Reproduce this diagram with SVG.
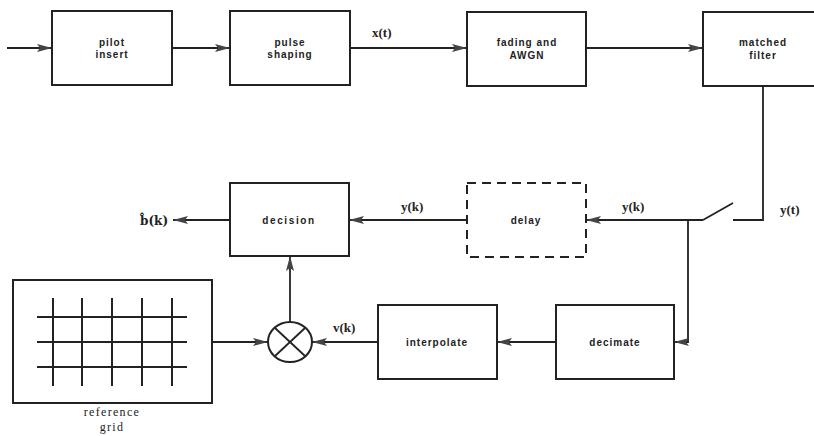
<svg xmlns="http://www.w3.org/2000/svg" width="814" height="436" viewBox="0 0 814 436">
<defs>
<marker id="ah" markerUnits="userSpaceOnUse" markerWidth="16" markerHeight="10" refX="15" refY="4" orient="auto">
<path d="M0,0 L15,4 L0,8 L3,4 z" fill="#444"/>
</marker>
<style>
.box{fill:#fff;stroke:#222;stroke-width:2}
.dash{fill:#fff;stroke:#222;stroke-width:2;stroke-dasharray:9,6}
.ln{fill:none;stroke:#222;stroke-width:1.8}
.lbl{font-family:"Liberation Sans",Arial,sans-serif;font-weight:bold;font-size:10px;letter-spacing:1px;fill:#222;text-anchor:middle}
.sig{font-family:"Liberation Serif","Times New Roman",serif;font-weight:bold;font-size:13px;fill:#222}
.cap{font-family:"Liberation Serif","Times New Roman",serif;font-size:12px;letter-spacing:1.3px;fill:#222;text-anchor:middle}
.grid{stroke:#222;stroke-width:2}
</style>
</defs>
<rect width="814" height="436" fill="#fff"/>

<g id="connectors">
<line class="ln" x1="7" y1="48" x2="52" y2="48" marker-end="url(#ah)"/>
<line class="ln" x1="172" y1="48" x2="230" y2="48" marker-end="url(#ah)"/>
<line class="ln" x1="350" y1="48" x2="467" y2="48" marker-end="url(#ah)"/>
<line class="ln" x1="586" y1="48" x2="703" y2="48" marker-end="url(#ah)"/>
<polyline class="ln" points="763,86 763,220 733,220"/>
<line class="ln" x1="703" y1="220" x2="733" y2="203"/>
<line class="ln" x1="703" y1="220" x2="586" y2="220" marker-end="url(#ah)"/>
<polyline class="ln" points="688,220 688,342 674,342" marker-end="url(#ah)"/>
<line class="ln" x1="467" y1="220" x2="349" y2="220" marker-end="url(#ah)"/>
<line class="ln" x1="230" y1="220" x2="173" y2="220" marker-end="url(#ah)"/>
<line class="ln" x1="556" y1="342" x2="497" y2="342" marker-end="url(#ah)"/>
<line class="ln" x1="378" y1="342" x2="312" y2="342" marker-end="url(#ah)"/>
<line class="ln" x1="212" y1="342" x2="268" y2="342" marker-end="url(#ah)"/>
<line class="ln" x1="290" y1="322" x2="290" y2="256" marker-end="url(#ah)"/>
<text class="sig" x="372" y="37">x(t)</text>
<text class="sig" x="622" y="211">y(k)</text>
<text class="sig" x="780" y="214">y(t)</text>
<text class="sig" x="401" y="211">y(k)</text>
<text class="sig" x="140" y="225" style="font-family:'DejaVu Serif',serif;font-size:12px">b̂(k)</text>
<text class="sig" x="333" y="332">v(k)</text>
</g>

<g id="pilot">
<rect class="box" x="52" y="11" width="120" height="74"/>
<text class="lbl" x="112" y="46">pilot</text>
<text class="lbl" x="112" y="58">insert</text>
</g>
<g id="pulse">
<rect class="box" x="230" y="11" width="120" height="74"/>
<text class="lbl" x="290" y="46">pulse</text>
<text class="lbl" x="290" y="58">shaping</text>
</g>
<g id="fading">
<rect class="box" x="467" y="12" width="119" height="74"/>
<text class="lbl" x="527" y="46">fading and</text>
<text class="lbl" x="527" y="59">AWGN</text>
</g>
<g id="matched">
<rect class="box" x="703" y="12" width="125" height="74"/>
<text class="lbl" x="763" y="46">matched</text>
<text class="lbl" x="763" y="59">filter</text>
</g>
<g id="delay">
<rect class="dash" x="467" y="183" width="119" height="74"/>
<text class="lbl" x="526" y="224">delay</text>
</g>
<g id="decision">
<rect class="box" x="230" y="183" width="119" height="73"/>
<text class="lbl" x="289" y="224" style="letter-spacing:1.6px">decision</text>
</g>
<g id="multiplier">
<ellipse cx="290" cy="342" rx="22" ry="20" fill="#fff" stroke="#222" stroke-width="2"/>
<line class="ln" x1="275" y1="328" x2="305" y2="356"/>
<line class="ln" x1="305" y1="328" x2="275" y2="356"/>
</g>
<g id="interpolate">
<rect class="box" x="378" y="305" width="119" height="74"/>
<text class="lbl" x="437" y="346">interpolate</text>
</g>
<g id="decimate">
<rect class="box" x="556" y="305" width="118" height="74"/>
<text class="lbl" x="615" y="346">decimate</text>
</g>
<g id="refgrid">
<rect class="box" x="13" y="280" width="199" height="123"/>
<line class="grid" x1="53" y1="298" x2="53" y2="386"/>
<line class="grid" x1="82" y1="298" x2="82" y2="386"/>
<line class="grid" x1="112" y1="298" x2="112" y2="386"/>
<line class="grid" x1="142" y1="298" x2="142" y2="386"/>
<line class="grid" x1="172" y1="298" x2="172" y2="386"/>
<line class="grid" x1="37" y1="317" x2="187" y2="317"/>
<line class="grid" x1="37" y1="342" x2="187" y2="342"/>
<line class="grid" x1="37" y1="367" x2="187" y2="367"/>
<text class="cap" x="112" y="416">reference</text>
<text class="cap" x="112" y="431">grid</text>
</g>
</svg>
